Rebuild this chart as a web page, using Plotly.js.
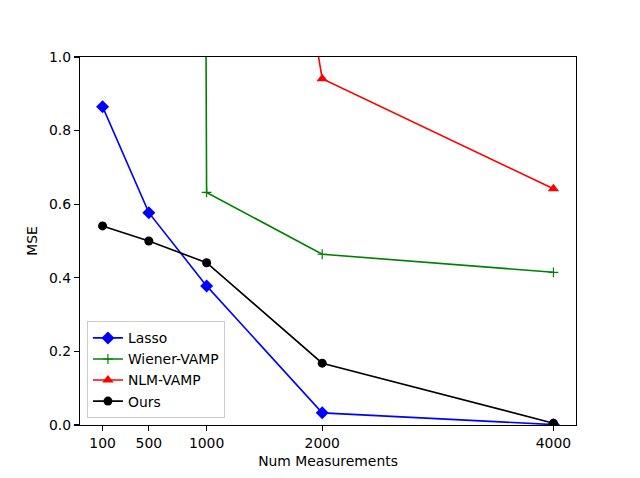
<!DOCTYPE html>
<html>
<head>
<meta charset="utf-8">
<script src="https://cdn.plot.ly/plotly-3.0.1.min.js"></script>
<style>html,body{margin:0;padding:0;background:#fff;}#chart{width:640px;height:478px;}</style>
</head>
<body>
<div id="chart"></div>
<script>
const measurements = [100, 500, 1000, 2000, 4000];
const lasso = [0.865, 0.577, 0.378, 0.033, 0.001];
const wienerVamp = [60, 40, 0.632, 0.464, 0.415];
const nlmVamp = [8, 5, 2.8, 0.941, 0.642];
const ours = [0.541, 0.500, 0.441, 0.168, 0.005];
const xTicks = [100, 500, 1000, 2000, 4000];
const yTicks = [0.0, 0.2, 0.4, 0.6, 0.8, 1.0];

const font = {family: 'DejaVu Sans', size: 13.9, color: '#000'};
const traces = [
  {x: measurements, y: lasso, name: 'Lasso', mode: 'lines+markers',
   line: {color: 'blue', width: 1.6}, marker: {symbol: 'diamond', size: 10, color: 'blue'}},
  {x: measurements, y: wienerVamp, name: 'Wiener-VAMP', mode: 'lines+markers',
   line: {color: 'green', width: 1.6}, marker: {symbol: 'cross-thin-open', size: 7, color: 'green', line: {color: 'green', width: 1.2}}},
  {x: measurements, y: nlmVamp, name: 'NLM-VAMP', mode: 'lines+markers',
   line: {color: 'red', width: 1.6}, marker: {symbol: 'triangle-up', size: 10, color: 'red'}},
  {x: measurements, y: ours, name: 'Ours', mode: 'lines+markers',
   line: {color: 'black', width: 1.6}, marker: {symbol: 'circle', size: 9, color: 'black'}}
];
const layout = {
  width: 640, height: 478,
  margin: {l: 80, r: 64, t: 57, b: 53},
  paper_bgcolor: '#fff', plot_bgcolor: '#fff',
  font: font,
  showlegend: true,
  legend: {x: 0.014, y: 0.018, xanchor: 'left', yanchor: 'bottom',
    bgcolor: 'rgba(255,255,255,0.8)', bordercolor: '#ccc', borderwidth: 1,
    font: {family: 'DejaVu Sans', size: 13.9, color: '#000'}, tracegroupgap: 0, itemwidth: 30},
  xaxis: {range: [-95, 4195], tickvals: xTicks, ticktext: xTicks.map(String),
    showgrid: false, zeroline: false, showline: true, mirror: true, linecolor: '#000', linewidth: 1.1,
    ticks: 'outside', ticklen: 5, tickwidth: 1.1, tickcolor: '#000',
    title: {text: 'Num Measurements', font: font, standoff: 6}},
  yaxis: {range: [0, 1], tickvals: yTicks, ticktext: yTicks.map(v => v.toFixed(1)),
    showgrid: false, zeroline: false, showline: true, mirror: true, linecolor: '#000', linewidth: 1.1,
    ticks: 'outside', ticklen: 5, tickwidth: 1.1, tickcolor: '#000',
    title: {text: 'MSE', font: font, standoff: 8}}
};
Plotly.newPlot('chart', traces, layout, {displayModeBar: false, staticPlot: true});
</script>
</body>
</html>
